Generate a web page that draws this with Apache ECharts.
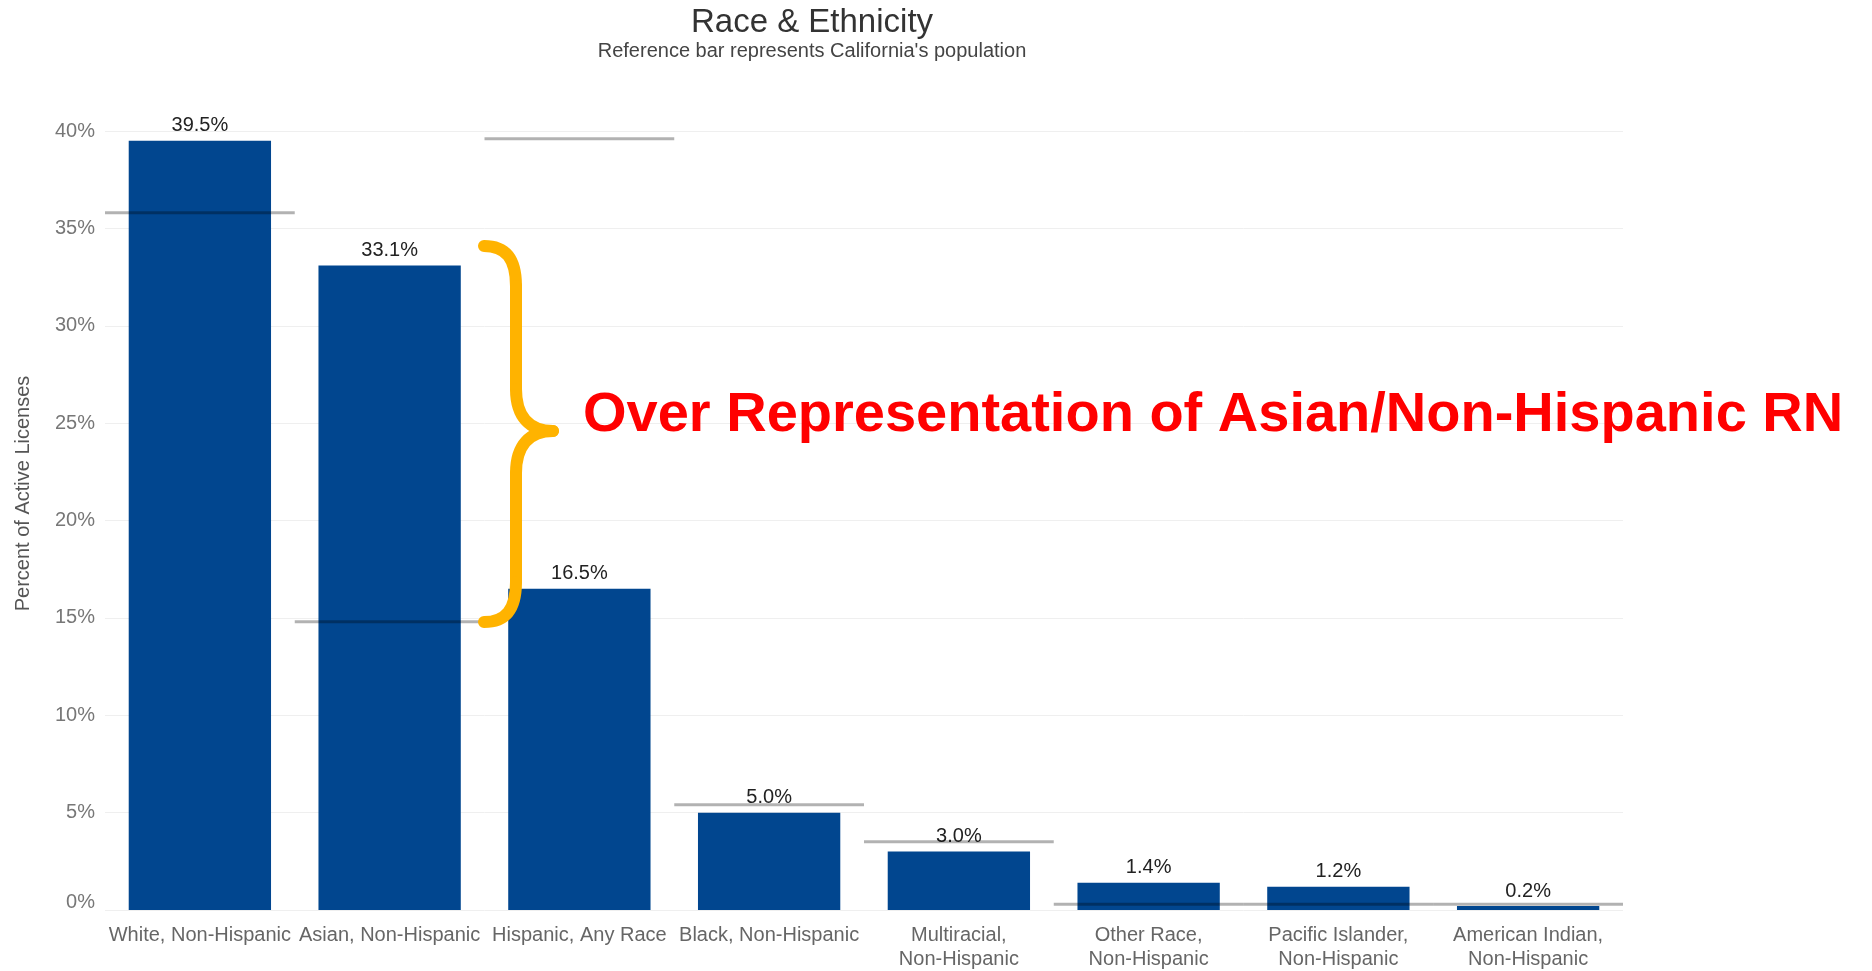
<!DOCTYPE html>
<html>
<head>
<meta charset="utf-8">
<script src="https://cdn.jsdelivr.net/npm/echarts@6/dist/echarts.min.js"></script>
<style>
html,body{margin:0;padding:0;background:#fff;}
#chart{width:1872px;height:971px;}
</style>
</head>
<body>
<div id="chart"></div>
<script>
const categories = [
  'White, Non-Hispanic',
  'Asian, Non-Hispanic',
  'Hispanic, Any Race',
  'Black, Non-Hispanic',
  'Multiracial,\nNon-Hispanic',
  'Other Race,\nNon-Hispanic',
  'Pacific Islander,\nNon-Hispanic',
  'American Indian,\nNon-Hispanic'
];
const licenseShare = [39.5, 33.1, 16.5, 5.0, 3.0, 1.4, 1.2, 0.2];
const populationShare = [35.8, 14.8, 39.6, 5.4, 3.5, 0.3, 0.3, 0.3];
const yTicks = [0, 5, 10, 15, 20, 25, 30, 35, 40];

const FONT = 'Liberation Sans, Arial, sans-serif';
const chart = echarts.init(document.getElementById('chart'));

const braceStyle = {fill: 'none', stroke: '#FFB300', lineWidth: 12, lineCap: 'round'};
function bez(x1, y1, cpx1, cpy1, cpx2, cpy2, x2, y2) {
  return {type: 'bezierCurve', z: 100, shape: {x1, y1, cpx1, cpy1, cpx2, cpy2, x2, y2}, style: braceStyle};
}
function seg(x1, y1, x2, y2) {
  return {type: 'line', z: 100, shape: {x1, y1, x2, y2}, style: braceStyle};
}

chart.setOption({
  backgroundColor: '#fff',
  animation: false,
  title: {
    text: 'Race & Ethnicity',
    subtext: "Reference bar represents California's population",
    left: 807,
    top: 1,
    textAlign: 'center',
    itemGap: 2,
    textStyle: {fontFamily: FONT, fontSize: 33, fontWeight: 'normal', color: '#333'},
    subtextStyle: {fontFamily: FONT, fontSize: 20, color: '#444'}
  },
  grid: {left: 105, right: 249, top: 131, bottom: 50, containLabel: false},
  xAxis: {
    type: 'category',
    data: categories,
    axisLine: {show: false},
    axisTick: {show: false},
    axisLabel: {
      interval: 0, margin: 13, fontFamily: FONT, fontSize: 20, color: '#666', lineHeight: 24
    }
  },
  yAxis: {
    type: 'value',
    min: yTicks[0],
    max: yTicks[yTicks.length - 1],
    interval: 5,
    name: 'Percent of Active Licenses',
    nameLocation: 'middle',
    nameGap: 72,
    nameTextStyle: {fontFamily: FONT, fontSize: 20, color: '#555', padding: [0, 0, 0, 54]},
    axisLine: {show: false},
    axisTick: {show: false},
    axisLabel: {
      fontFamily: FONT, fontSize: 20, color: '#777', margin: 10,
      formatter: v => v === 0 ? '{zero|0%}' : v + '%',
      rich: {zero: {fontFamily: FONT, fontSize: 20, color: '#777', padding: [0, 0, 16, 0]}}
    },
    splitLine: {lineStyle: {color: '#efefef', width: 1}}
  },
  series: [
    {
      type: 'bar',
      data: licenseShare,
      barWidth: '75%',
      itemStyle: {color: '#01468f'},
      label: {
        show: true, position: 'top', distance: 5,
        fontFamily: FONT, fontSize: 20, color: '#222',
        formatter: p => p.value.toFixed(1) + '%'
      },
      z: 2
    },
    {
      type: 'custom',
      data: populationShare.map((v, i) => [i, v]),
      clip: false,
      z: 5,
      renderItem: function (params, api) {
        const pt = api.coord([api.value(0), api.value(1)]);
        const w = api.size([1, 0])[0];
        return {
          type: 'line',
          shape: {x1: pt[0] - w / 2, y1: pt[1], x2: pt[0] + w / 2, y2: pt[1]},
          style: {stroke: 'rgba(0,0,0,0.3)', lineWidth: 3}
        };
      }
    }
  ],
  graphic: [
    bez(484, 246, 506, 246, 516, 259, 516, 286),
    seg(516, 286, 516, 389),
    bez(516, 389, 516, 417, 530, 431, 553, 431),
    bez(553, 431, 530, 431, 516, 445, 516, 473),
    seg(516, 473, 516, 582),
    bez(516, 582, 516, 609, 506, 622, 484, 622),
    {
      type: 'text',
      z: 100,
      left: 583,
      top: 388,
      style: {
        text: 'Over Representation of Asian/Non-Hispanic RN',
        fontFamily: FONT, fontSize: 56, fontWeight: 'bold', fill: '#ff0000'
      }
    }
  ]
});
</script>
</body>
</html>
